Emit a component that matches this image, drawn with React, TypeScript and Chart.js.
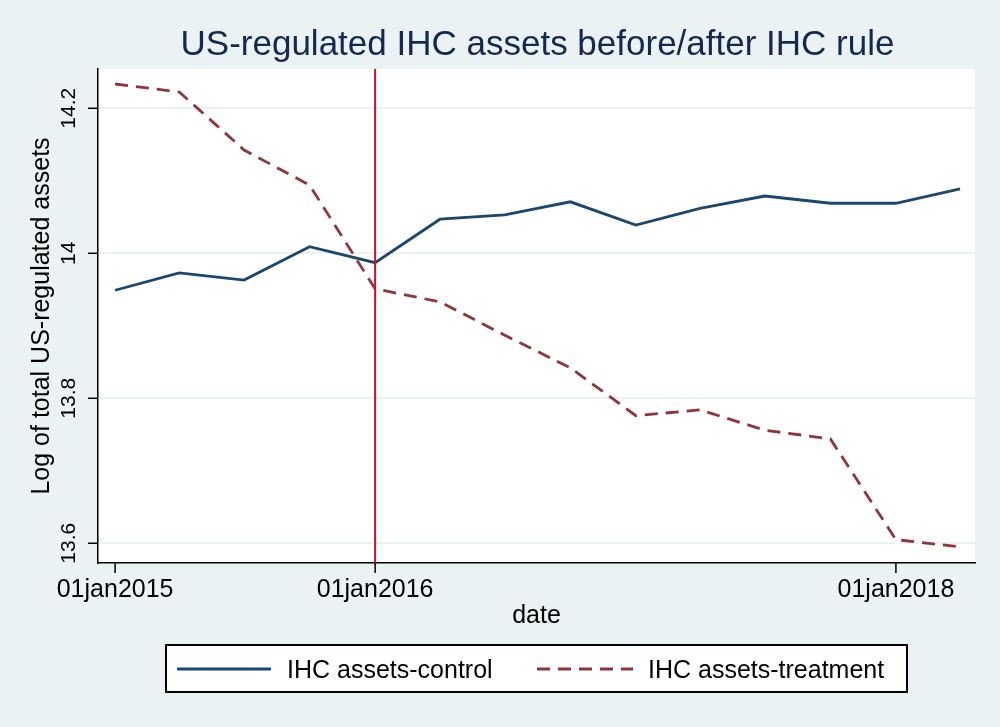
import React, { useEffect, useRef } from 'react';
import { Chart, registerables } from 'chart.js';

Chart.register(...registerables);

const TITLE = 'US-regulated IHC assets before/after IHC rule';
const X_TITLE = 'date';
const Y_TITLE = 'Log of total US-regulated assets';

const dates = [
  '2015-01-01', '2015-04-01', '2015-07-01', '2015-10-01',
  '2016-01-01', '2016-04-01', '2016-07-01', '2016-10-01',
  '2017-01-01', '2017-04-01', '2017-07-01', '2017-10-01',
  '2018-01-01', '2018-04-01',
];
const controlValues = [
  13.949, 13.973, 13.963, 14.009, 13.987, 14.047, 14.053,
  14.071, 14.039, 14.062, 14.079, 14.069, 14.069, 14.089,
];
const treatmentValues = [
  14.2335, 14.2225, 14.1425, 14.094, 13.951, 13.933, 13.887,
  13.842, 13.776, 13.784, 13.756, 13.744, 13.605, 13.595,
];
const seriesLabels = ['IHC assets-control', 'IHC assets-treatment'];
const yTicks = [13.6, 13.8, 14, 14.2];
const yTickLabels = ['13.6', '13.8', '14', '14.2'];
const xTickDates = ['2015-01-01', '2016-01-01', '2018-01-01'];
const xTickLabels = ['01jan2015', '01jan2016', '01jan2018'];
const ruleDate = '2016-01-01';

const ORIGIN = Date.UTC(2015, 0, 1);
const dayOf = (d: string) => Math.round((Date.parse(d + 'T00:00:00Z') - ORIGIN) / 86400000);

const FONT = '"Liberation Sans", Arial, Helvetica, sans-serif';
const BG = '#EAF2F3';
const NAVY = '#1a476f';
const MAROON = '#90353b';

const stataPlugin = {
  id: 'stataDecor',
  beforeDraw(chart: any) {
    const { ctx, chartArea, width, height } = chart;
    ctx.save();
    ctx.fillStyle = BG;
    ctx.fillRect(0, 0, width, height);
    ctx.fillStyle = '#ffffff';
    ctx.fillRect(chartArea.left, chartArea.top, chartArea.right - chartArea.left, chartArea.bottom - chartArea.top);
    ctx.restore();
  },
  afterDatasetsDraw(chart: any) {
    const { ctx, chartArea, scales } = chart;
    const x = scales.x.getPixelForValue(dayOf(ruleDate));
    ctx.save();
    ctx.strokeStyle = '#C8102E';
    ctx.lineWidth = 2;
    ctx.beginPath();
    ctx.moveTo(x, chartArea.top);
    ctx.lineTo(x, chartArea.bottom);
    ctx.stroke();
    ctx.restore();
  },
  afterDraw(chart: any) {
    const { ctx, chartArea, scales } = chart;
    const xs = scales.x;
    const ys = scales.y;
    ctx.save();
    ctx.strokeStyle = '#000';
    ctx.lineWidth = 1.5;
    // y tick marks and labels
    yTicks.forEach((v, i) => {
      const y = ys.getPixelForValue(v);
      ctx.beginPath();
      ctx.moveTo(chartArea.left - 10, y);
      ctx.lineTo(chartArea.left, y);
      ctx.stroke();
      ctx.save();
      ctx.translate(chartArea.left - 23, y);
      ctx.rotate(-Math.PI / 2);
      ctx.fillStyle = '#000';
      ctx.font = `21px ${FONT}`;
      ctx.textAlign = 'center';
      ctx.textBaseline = 'alphabetic';
      ctx.fillText(yTickLabels[i], 0, 0);
      ctx.restore();
    });
    // x tick marks and labels
    xTickDates.forEach((d, i) => {
      const x = xs.getPixelForValue(dayOf(d));
      ctx.beginPath();
      ctx.moveTo(x, chartArea.bottom);
      ctx.lineTo(x, chartArea.bottom + 10);
      ctx.stroke();
      ctx.fillStyle = '#000';
      ctx.font = `25px ${FONT}`;
      ctx.textAlign = 'center';
      ctx.textBaseline = 'alphabetic';
      ctx.fillText(xTickLabels[i], x, chartArea.bottom + 34);
    });
    const midX = (chartArea.left + chartArea.right) / 2;
    const midY = (chartArea.top + chartArea.bottom) / 2;
    // axis titles
    ctx.fillStyle = '#000';
    ctx.font = `25px ${FONT}`;
    ctx.textAlign = 'center';
    ctx.fillText(X_TITLE, midX, chartArea.bottom + 60);
    ctx.save();
    ctx.translate(49, midY);
    ctx.rotate(-Math.PI / 2);
    ctx.fillText(Y_TITLE, 0, 0);
    ctx.restore();
    // title
    ctx.fillStyle = '#142850';
    ctx.font = `35px ${FONT}`;
    ctx.fillText(TITLE, midX + 1, 55);
    // legend
    const bx = 166, by = 645, bw = 741, bh = 47;
    ctx.fillStyle = '#ffffff';
    ctx.fillRect(bx, by, bw, bh);
    ctx.strokeStyle = '#000';
    ctx.lineWidth = 2;
    ctx.strokeRect(bx, by, bw, bh);
    const items = [
      { x0: 177, x1: 271, tx: 287 },
      { x0: 537, x1: 633, tx: 648 },
    ];
    chart.data.datasets.forEach((ds: any, i: number) => {
      const it = items[i];
      const ly = by + 24;
      ctx.save();
      ctx.strokeStyle = ds.borderColor;
      ctx.lineWidth = ds.borderWidth;
      ctx.setLineDash(ds.borderDash || []);
      ctx.beginPath();
      ctx.moveTo(it.x0, ly);
      ctx.lineTo(it.x1, ly);
      ctx.stroke();
      ctx.restore();
      ctx.fillStyle = '#000';
      ctx.font = `25px ${FONT}`;
      ctx.textAlign = 'left';
      ctx.textBaseline = 'alphabetic';
      ctx.fillText(ds.label, it.tx, by + 33);
    });
    ctx.restore();
  },
};

export default function App() {
  const ref = useRef<HTMLCanvasElement>(null);
  useEffect(() => {
    if (!ref.current) return;
    const xVals = dates.map(dayOf);
    const chart = new Chart(ref.current, {
      type: 'line',
      data: {
        datasets: [
          {
            label: seriesLabels[0],
            data: xVals.map((x, i) => ({ x, y: controlValues[i] })),
            borderColor: NAVY,
            borderWidth: 2.8,
            pointRadius: 0,
            tension: 0,
            fill: false,
          },
          {
            label: seriesLabels[1],
            data: xVals.map((x, i) => ({ x, y: treatmentValues[i] })),
            borderColor: MAROON,
            borderWidth: 2.8,
            borderDash: [13, 8],
            pointRadius: 0,
            tension: 0,
            fill: false,
          },
        ],
      },
      options: {
        animation: false,
        responsive: false,
        devicePixelRatio: 1,
        layout: { padding: { left: 98, top: 69, right: 25, bottom: 164 } },
        plugins: { legend: { display: false }, tooltip: { enabled: false }, title: { display: false } },
        scales: {
          x: {
            type: 'linear',
            min: -24,
            max: 1207,
            grid: { display: false, drawTicks: false },
            border: { display: true, color: '#000', width: 1.5 },
            ticks: { display: false },
            afterFit: (s: any) => { s.height = 0; },
          },
          y: {
            type: 'linear',
            min: 13.5728,
            max: 14.2542,
            afterBuildTicks: (s: any) => { s.ticks = yTicks.map((v) => ({ value: v })); },
            grid: { display: true, color: BG, lineWidth: 2, drawTicks: false },
            border: { display: true, color: '#000', width: 1.5 },
            ticks: { display: false },
            afterFit: (s: any) => { s.width = 0; },
          },
        },
      },
      plugins: [stataPlugin],
    });
    return () => chart.destroy();
  }, []);
  return (
    <div style={{ position: 'fixed', left: 0, top: 0, width: 1000, height: 727 }}>
      <canvas ref={ref} width={1000} height={727} />
    </div>
  );
}
